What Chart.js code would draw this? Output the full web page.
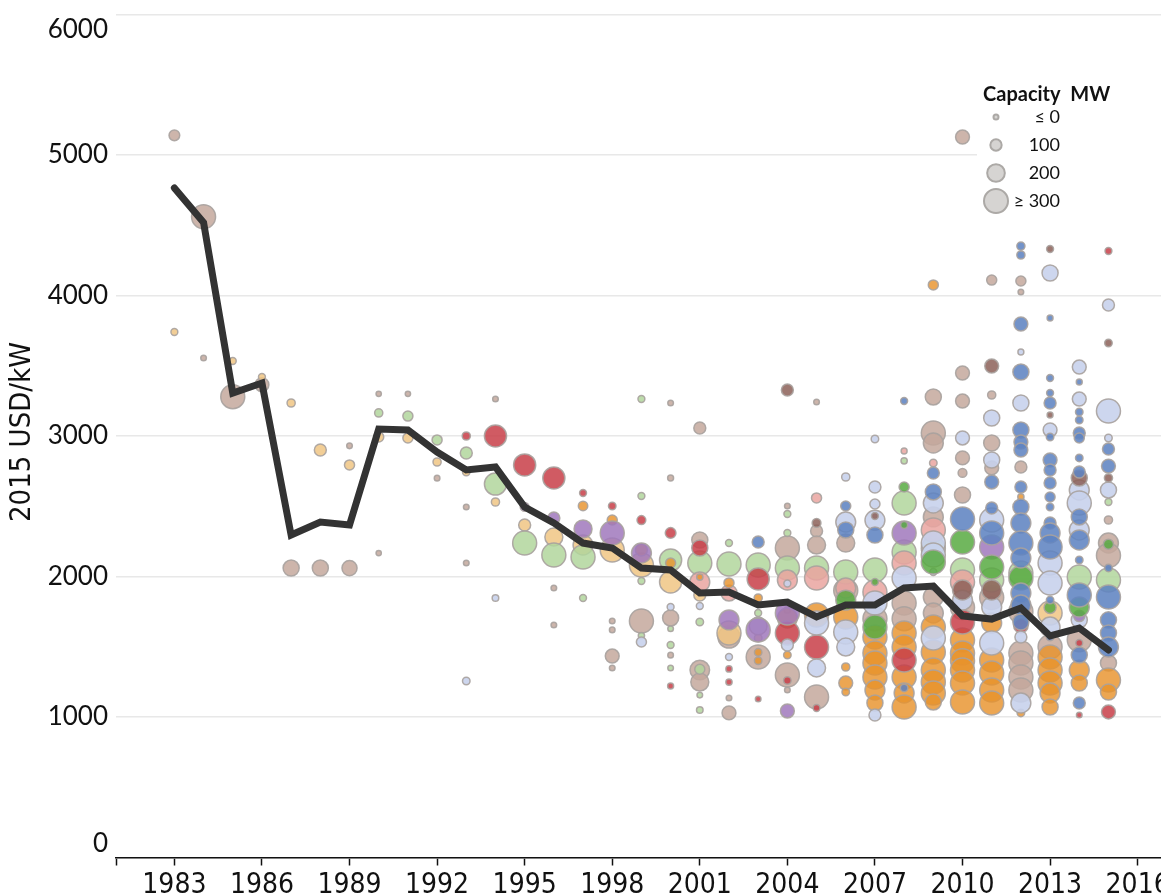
<!DOCTYPE html>
<html>
<head>
<meta charset="utf-8">
<script src="https://cdn.jsdelivr.net/npm/chart.js@4.4.1/dist/chart.umd.min.js"></script>
<style>
  html, body { margin: 0; padding: 0; background: #fff; }
  canvas { display: block; }
</style>
</head>
<body>
<canvas id="costChart" width="1161" height="896"></canvas>
<script>
// weighted average installed cost (the black line)
const avgYears = [1983, 1984, 1985, 1986, 1987, 1988, 1989, 1990, 1991, 1992, 1993, 1994, 1995, 1996, 1997, 1998, 1999,
                  2000, 2001, 2002, 2003, 2004, 2005, 2006, 2007, 2008, 2009, 2010, 2011, 2012, 2013, 2014, 2015];
const avgCost = [4765, 4520, 3306, 3377, 2295, 2388, 2367, 3050, 3043, 2886, 2758, 2779, 2495, 2381, 2238, 2203, 2060,
                 2046, 1883, 1890, 1797, 1818, 1712, 1797, 1797, 1918, 1932, 1719, 1697, 1776, 1577, 1633, 1477];

const xTicks = [1981, 1983, 1986, 1989, 1992, 1995, 1998, 2001, 2004, 2007, 2010, 2013, 2016];
const yTicks = [0, 1000, 2000, 3000, 4000, 5000, 6000];

// projects: [year, cost USD/kW, capacity MW], one list per colour group
const tanPts = [
  [1983, 5140, 90], [1984, 4560, 320], [1984, 3555, 10], [1985, 3280, 300], [1986, 3365, 140], [1987, 2060, 175],
  [1988, 2060, 175], [1989, 2930, 10], [1989, 2060, 160], [1990, 2167, 5], [1990, 3300, 5], [1991, 3300, 5],
  [1992, 2700, 10], [1993, 2495, 10], [1993, 2096, 10], [1994, 3263, 10], [1996, 1918, 10], [1996, 1655, 10],
  [1998, 1683, 10], [1998, 1620, 10], [1998, 1434, 140], [1998, 1349, 10], [1999, 1683, 300], [2000, 3235, 10],
  [2000, 2701, 15], [2000, 1705, 175], [2000, 1440, 10], [2001, 3057, 110], [2001, 2260, 175], [2001, 1334, 230],
  [2001, 1249, 205], [2002, 1569, 270], [2002, 1135, 10], [2002, 1029, 140], [2003, 1427, 300], [2004, 2502, 10],
  [2004, 2203, 300], [2004, 1299, 300], [2004, 1192, 10], [2005, 3242, 10], [2005, 2324, 110], [2005, 2224, 205],
  [2005, 1142, 300], [2006, 2238, 205], [2006, 1900, 300], [2007, 1700, 300], [2008, 1811, 300], [2008, 1700, 300],
  [2009, 3278, 175], [2009, 3021, 300], [2009, 2950, 235], [2009, 2424, 235], [2009, 1854, 235], [2009, 1740, 235],
  [2010, 5128, 140], [2010, 3448, 140], [2010, 3249, 140], [2010, 2844, 140], [2010, 2737, 60], [2010, 2580, 175],
  [2010, 1780, 300], [2011, 4110, 80], [2011, 3292, 50], [2011, 2950, 175], [2011, 2773, 140], [2011, 1850, 300],
  [2012, 4103, 80], [2012, 4025, 10], [2012, 2779, 110], [2012, 1750, 300], [2012, 1455, 300], [2012, 1384, 300],
  [2012, 1285, 300], [2012, 1192, 300], [2013, 1500, 300], [2014, 1550, 300], [2015, 2402, 50], [2015, 2238, 235],
  [2015, 2150, 300], [2015, 1384, 175]
];
const lightOrangePts = [
  [1983, 3740, 30], [1985, 3534, 30], [1986, 3420, 30], [1987, 3235, 50], [1988, 2900, 110], [1989, 2794, 80],
  [1990, 2993, 80], [1991, 2986, 80], [1992, 2815, 50], [1993, 2744, 40], [1994, 2530, 50], [1995, 2367, 110],
  [1996, 2281, 205], [1997, 2224, 235], [1998, 2189, 300], [1999, 2082, 300], [2000, 1961, 270], [2001, 1868, 110],
  [2002, 1598, 300], [2003, 1562, 40], [2009, 2300, 20], [2013, 1740, 300]
];
const lightGreenPts = [
  [1990, 3164, 50], [1991, 3142, 80], [1992, 2972, 80], [1993, 2879, 110], [1994, 2658, 270], [1995, 2238, 300],
  [1996, 2153, 300], [1997, 2139, 300], [1997, 1847, 30], [1999, 3263, 30], [1999, 2573, 30], [1999, 1968, 30],
  [1999, 1580, 20], [2000, 2117, 270], [2000, 1628, 10], [2000, 1512, 30], [2000, 1349, 10], [2001, 2096, 300],
  [2001, 1676, 40], [2001, 1340, 80], [2001, 1156, 10], [2001, 1050, 25], [2002, 2238, 30], [2002, 2089, 300],
  [2003, 2082, 300], [2003, 1740, 30], [2004, 2445, 30], [2004, 2310, 30], [2004, 2061, 300], [2004, 1762, 20],
  [2005, 2061, 300], [2006, 2032, 300], [2007, 2046, 300], [2008, 2823, 20], [2008, 2523, 300], [2008, 2174, 300],
  [2009, 2200, 300], [2010, 2046, 300], [2011, 1975, 300], [2012, 2025, 300], [2014, 1996, 300], [2015, 2530, 30],
  [2015, 1975, 300]
];
const redPts = [
  [1993, 3000, 50], [1994, 3000, 270], [1995, 2794, 270], [1996, 2701, 270], [1997, 2594, 30], [1998, 2502, 40],
  [1999, 2402, 60], [2000, 2310, 90], [2000, 1221, 15], [2001, 2203, 175], [2002, 1342, 20], [2002, 1249, 20],
  [2003, 1982, 270], [2003, 1128, 10], [2004, 1598, 300], [2004, 1260, 40], [2005, 1498, 300], [2005, 1064, 30],
  [2008, 1405, 300], [2010, 1676, 300], [2012, 1650, 150], [2014, 1527, 30], [2014, 1014, 10], [2015, 4317, 30],
  [2015, 1036, 140]
];
const orangePts = [
  [1997, 2502, 70], [1998, 2402, 80], [1999, 2189, 110], [2000, 2096, 80], [2001, 1996, 20], [2002, 1954, 80],
  [2003, 1847, 50], [2003, 1460, 40], [2003, 1400, 40], [2004, 1705, 235], [2004, 1441, 40], [2005, 1726, 300],
  [2006, 1712, 300], [2006, 1356, 50], [2006, 1242, 140], [2006, 1178, 40], [2007, 1569, 300], [2007, 1455, 300],
  [2007, 1384, 300], [2007, 1285, 300], [2007, 1192, 235], [2007, 1100, 175], [2008, 1598, 300], [2008, 1498, 300],
  [2008, 1285, 300], [2008, 1171, 235], [2008, 1071, 300], [2009, 4075, 80], [2009, 1641, 300], [2009, 1462, 300],
  [2009, 1334, 300], [2009, 1250, 300], [2009, 1171, 300], [2009, 1107, 175], [2010, 1548, 300], [2010, 1455, 300],
  [2010, 1400, 300], [2010, 1334, 300], [2010, 1242, 300], [2010, 1107, 300], [2011, 1669, 235], [2011, 1405, 300],
  [2011, 1313, 300], [2011, 1192, 300], [2011, 1100, 300], [2012, 2566, 20], [2012, 1029, 40], [2013, 1427, 300],
  [2013, 1334, 300], [2013, 1242, 300], [2013, 1171, 235], [2013, 1071, 175], [2014, 1334, 235], [2014, 1242, 175],
  [2015, 1263, 300], [2015, 1178, 175]
];
const bluePts = [
  [2003, 2246, 110], [2006, 2502, 80], [2006, 2331, 175], [2007, 2295, 175], [2008, 3249, 30], [2008, 1207, 40],
  [2009, 2737, 110], [2009, 2602, 175], [2010, 2409, 300], [2011, 2673, 140], [2011, 2488, 110], [2011, 2310, 300],
  [2012, 4352, 50], [2012, 4288, 50], [2012, 3797, 140], [2012, 3455, 175], [2012, 3043, 175], [2012, 2957, 140],
  [2012, 2900, 140], [2012, 2637, 110], [2012, 2495, 175], [2012, 2381, 235], [2012, 2238, 300], [2012, 2132, 235],
  [2012, 1883, 235], [2012, 1797, 235], [2012, 1676, 175], [2013, 3840, 15], [2013, 3413, 30], [2013, 3306, 30],
  [2013, 3235, 110], [2013, 2993, 40], [2013, 2829, 140], [2013, 2758, 110], [2013, 2665, 110], [2013, 2566, 80],
  [2013, 2495, 40], [2013, 2381, 110], [2013, 2310, 235], [2013, 2210, 300], [2013, 1832, 40], [2013, 1569, 40],
  [2014, 3384, 15], [2014, 3171, 40], [2014, 3114, 40], [2014, 3021, 110], [2014, 2986, 80], [2014, 2844, 40],
  [2014, 2744, 110], [2014, 2424, 175], [2014, 2260, 235], [2014, 2117, 40], [2014, 1868, 300], [2014, 1441, 175],
  [2014, 1100, 110], [2015, 2907, 110], [2015, 2786, 140], [2015, 2061, 40], [2015, 1854, 300], [2015, 1691, 175],
  [2015, 1598, 175], [2015, 1498, 235]
];
const lightBluePts = [
  [1993, 1256, 40], [1994, 1847, 25], [1999, 1534, 80], [2000, 1783, 30], [2001, 1790, 30], [2002, 1427, 30],
  [2003, 1648, 200], [2004, 1950, 30], [2004, 1512, 110], [2005, 1669, 300], [2005, 1349, 205], [2006, 2708, 50],
  [2006, 2388, 235], [2006, 1605, 300], [2006, 1498, 205], [2007, 2979, 40], [2007, 2637, 110], [2007, 2516, 80],
  [2007, 2400, 235], [2007, 1811, 300], [2007, 1014, 110], [2008, 1989, 300], [2009, 2523, 235], [2009, 2238, 300],
  [2009, 2153, 300], [2009, 2032, 30], [2009, 1562, 300], [2010, 2986, 140], [2010, 1832, 235], [2011, 3128, 175],
  [2011, 2829, 175], [2011, 2402, 300], [2011, 1783, 235], [2011, 1527, 300], [2012, 3598, 15], [2012, 3235, 175],
  [2012, 1569, 110], [2012, 1100, 235], [2013, 4160, 175], [2013, 3043, 140], [2013, 2096, 300], [2013, 1954, 300],
  [2013, 1641, 235], [2014, 3491, 140], [2014, 3263, 140], [2014, 2616, 235], [2014, 2523, 300], [2014, 2331, 235],
  [2014, 1691, 175], [2015, 3932, 110], [2015, 3178, 300], [2015, 2986, 40], [2015, 2616, 175]
];
const purplePts = [
  [1995, 2495, 60], [1996, 2416, 110], [1997, 2338, 205], [1998, 2310, 300], [1999, 2167, 235], [2002, 1691, 235],
  [2003, 1620, 300], [2004, 1740, 300], [2004, 1043, 140], [2008, 2310, 300], [2009, 1925, 30], [2011, 2210, 300],
  [2014, 1720, 100]
];
const greenPts = [
  [2006, 1832, 235], [2007, 1961, 30], [2007, 1641, 300], [2008, 2637, 80], [2008, 2367, 30], [2009, 2103, 300],
  [2010, 2246, 300], [2011, 2068, 300], [2012, 1989, 300], [2013, 1780, 110], [2014, 1783, 235], [2015, 2230, 80]
];
const pinkPts = [
  [2001, 1961, 235], [2002, 1883, 175], [2004, 1975, 235], [2005, 2559, 80], [2005, 1989, 300], [2006, 1918, 235],
  [2007, 1890, 300], [2008, 2893, 15], [2008, 2096, 300], [2009, 2808, 40], [2009, 2331, 300], [2010, 1961, 300]
];
const brownPts = [
  [2004, 3327, 110], [2005, 2381, 60], [2007, 2431, 30], [2010, 1904, 235], [2011, 3498, 140], [2011, 1904, 235],
  [2013, 4331, 30], [2013, 3149, 15], [2014, 2701, 175], [2015, 3662, 40], [2015, 2701, 50]
];

const legendMW = [0, 100, 200, 300];
const legendLabels = ['≤ 0', '100', '200', '≥ 300'];

// capacity -> bubble radius in px
const radiusFor = mw => 2.5 + Math.min(Math.max(mw, 0), 300) / 300 * 9.5;

// bottom to top
const groups = [
  { pts: tanPts, color: 'rgba(196,168,156,0.85)' },
  { pts: lightOrangePts, color: 'rgba(240,198,132,0.85)' },
  { pts: lightGreenPts, color: 'rgba(178,214,156,0.85)' },
  { pts: pinkPts, color: 'rgba(234,164,160,0.85)' },
  { pts: orangePts, color: 'rgba(232,146,44,0.82)' },
  { pts: redPts, color: 'rgba(200,62,72,0.85)' },
  { pts: lightBluePts, color: 'rgba(200,210,236,0.9)' },
  { pts: purplePts, color: 'rgba(160,120,188,0.85)' },
  { pts: greenPts, color: 'rgba(88,170,66,0.85)' },
  { pts: brownPts, color: 'rgba(140,96,88,0.85)' },
  { pts: bluePts, color: 'rgba(96,132,194,0.88)' }
];

const bubbleSets = groups.map((g, i) => ({
  type: 'bubble',
  data: g.pts.map(p => ({ x: p[0], y: p[1], r: radiusFor(p[2]) })),
  backgroundColor: g.color,
  borderColor: 'rgba(168,162,158,0.9)',
  borderWidth: 1.5,
  order: 100 - i
}));

const lineSet = {
  type: 'line',
  data: avgYears.map((y, i) => ({ x: y, y: avgCost[i] })),
  borderColor: '#333333',
  borderWidth: 7,
  borderCapStyle: 'round',
  pointRadius: 0,
  tension: 0,
  order: 0
};

const narrow = '"Liberation Sans Narrow", "DejaVu Sans Condensed", sans-serif';

const axisText = {
  id: 'axisText',
  afterDraw(chart) {
    const ctx = chart.ctx;
    const ys = chart.scales.y;
    ctx.save();
    ctx.fillStyle = '#111';
    ctx.font = '26px Lato, sans-serif';
    ctx.textAlign = 'right';
    ctx.textBaseline = 'middle';
    yTicks.forEach(v => {
      let py = ys.getPixelForValue(v);
      if (v === 6000) py += 15;
      if (v === 0) py -= 14;
      ctx.fillText(String(v), 108, py);
    });
    ctx.translate(22, 432);
    ctx.rotate(-Math.PI / 2);
    ctx.textAlign = 'center';
    ctx.font = '29px ' + narrow;
    ctx.fillText('2015 USD/kW', 0, 0);
    ctx.restore();
  }
};

const sizeLegend = {
  id: 'sizeLegend',
  afterDatasetsDraw(chart) {
    const ctx = chart.ctx;
    ctx.save();
    ctx.fillStyle = '#fff';
    ctx.fillRect(977, 78, 184, 138);
    ctx.fillStyle = '#111';
    ctx.font = 'bold 20px Lato, sans-serif';
    ctx.textAlign = 'left';
    ctx.textBaseline = 'middle';
    ctx.fillText('Capacity  MW', 983, 95);
    ctx.font = '18px Lato, sans-serif';
    ctx.textAlign = 'right';
    legendMW.forEach((mw, i) => {
      const cy = 117 + i * 28;
      ctx.beginPath();
      ctx.arc(996, cy, radiusFor(mw), 0, Math.PI * 2);
      ctx.fillStyle = '#d6d4d2';
      ctx.fill();
      ctx.lineWidth = 2;
      ctx.strokeStyle = '#aca9a6';
      ctx.stroke();
      ctx.fillStyle = '#111';
      ctx.fillText(legendLabels[i], 1060, cy);
    });
    ctx.restore();
  }
};

new Chart(document.getElementById('costChart'), {
  data: { datasets: [lineSet, ...bubbleSets] },
  options: {
    responsive: false,
    animation: false,
    events: [],
    layout: { autoPadding: false, padding: { top: 14.5, right: 0, left: 0, bottom: 0 } },
    plugins: { legend: { display: false }, tooltip: { enabled: false } },
    scales: {
      x: {
        type: 'linear',
        min: 1981,
        max: 2016.8,
        afterBuildTicks: axis => { axis.ticks = xTicks.map(v => ({ value: v })); },
        afterFit: scale => { scale.height = 38.5; scale.paddingLeft = 0; scale.paddingRight = 0; },
        grid: { drawOnChartArea: false, drawTicks: true, tickLength: 8, tickColor: '#111', tickWidth: 1.5 },
        border: { display: true, color: '#111', width: 1.5 },
        ticks: {
          autoSkip: false,
          maxRotation: 0,
          padding: 3,
          color: '#111',
          font: { family: narrow, size: 28 },
          callback: v => (v === 1981 ? '' : String(v))
        }
      },
      y: {
        type: 'linear',
        min: 0,
        max: 6000,
        afterBuildTicks: axis => { axis.ticks = yTicks.map(v => ({ value: v })); },
        afterFit: scale => { scale.width = 116; },
        grid: { color: '#e8e8e8', lineWidth: 1.5, drawTicks: false },
        border: { display: false },
        ticks: { display: false }
      }
    }
  },
  plugins: [axisText, sizeLegend]
});
</script>
</body>
</html>
